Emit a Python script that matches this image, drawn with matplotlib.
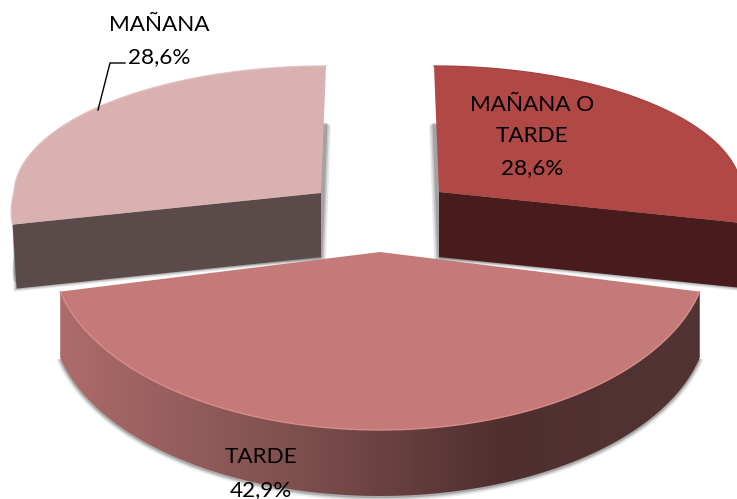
import numpy as np
import matplotlib
matplotlib.use('Agg')
import matplotlib.pyplot as plt
from matplotlib.colors import LinearSegmentedColormap
from matplotlib.patches import Polygon

labels = ['MAÑANA O\nTARDE', 'TARDE', 'MAÑANA']
values = [28.6, 42.9, 28.6]
value_labels = ['28,6%', '42,9%', '28,6%']

W, H = 737, 499


def surface(g, t0, t1):
    # points of a slice rim, angle measured clockwise from the top
    t = np.linspace(t0, t1, 200)
    c = np.cos(t)
    b = np.where(c > 0, g['b_up'], g['b_down'])
    flare = 1 + g['flare'] * np.clip(-c, 0, None)
    return np.column_stack([g['cx'] + g['a'] * np.sin(t) * flare + g['lean'] * c, g['cy'] - b * c])


def main():
    plt.rcParams['font.family'] = ['Lato', 'DejaVu Sans']
    fig = plt.figure(figsize=(W / 100, H / 100), dpi=100)
    ax = fig.add_axes([0, 0, 1, 1])
    ax.set_xlim(0, W)
    ax.set_ylim(H, 0)
    ax.axis('off')

    edges = np.cumsum([0] + values) / sum(values) * 2 * np.pi

    # right, bottom and left slice
    geo = [
        dict(cx=439, cy=192, a=303, b_up=126, b_down=140, lean=-5, depth=65, flare=0.12),
        dict(cx=380, cy=252, a=328, b_up=127, b_down=178, lean=0, depth=66, flare=0),
        dict(cx=321, cy=193, a=307, b_up=127, b_down=142, lean=5, depth=64, flare=0.12),
    ]
    tops = ['#b04845', '#c47a78', '#d9b1b1']
    faces = ['#481c1c', None, '#5a4a4a']
    rims = ['#a8443f', '#d98b89', '#e2bebe']

    # flat slices first, the big one goes on top of them
    for i in [0, 2, 1]:
        g = geo[i]
        arc = surface(g, edges[i], edges[i + 1])
        apex = [g['cx'], g['cy']]
        top = np.vstack([apex, arc])
        d = g['depth']
        low = arc + [0, d]

        # soft grey shadow
        if i == 1:
            for grow, al in [(4, 0.1), (2.5, 0.18), (1.2, 0.3)]:
                g2 = dict(g, a=g['a'] + grow, b_down=g['b_down'] + grow)
                sh = surface(g2, edges[i], edges[i + 1]) + [0, d + 1]
                ax.add_patch(Polygon(sh, closed=True, fc='#555555', ec='none', alpha=al))
        else:
            off = 3 if i == 2 else -3
            end = arc[-1] if i == 0 else arc[0]
            tip = end + [4 if i == 2 else 0, d]
            for k, al in [(1.6, 0.15), (1.0, 0.22), (0.5, 0.3)]:
                sh = np.vstack([[g['cx'] + off * k, g['cy'] + d + 2 * k], arc + [off * k, 56 + 2 * k]])
                ax.add_patch(Polygon(sh, closed=True, fc='#555555', ec='none', alpha=al))
                # shadow under the cut face
                shf = [apex, [g['cx'], g['cy'] + d + 2 * k], tip + [-2 * k if i == 2 else 0, 2 * k], end]
                ax.add_patch(Polygon(shf, closed=True, fc='#777777', ec='none', alpha=al))

        if i == 1:
            # curved side with the horizontal shading
            side = np.vstack([arc, low[::-1]])
            cmap = LinearSegmentedColormap.from_list(
                'side', [(0, '#ad6c6b'), (0.375, '#7d4f4d'), (0.69, '#4f2f2f'), (1, '#533434')])
            x0, x1 = side[:, 0].min(), side[:, 0].max()
            im = ax.imshow(np.linspace(0, 1, 256)[None, :], cmap=cmap, aspect='auto',
                           extent=[x0, x1, H, 0], zorder=2)
            im.set_clip_path(Polygon(side, closed=True, transform=ax.transData))
            ax.set_xlim(0, W)
            ax.set_ylim(H, 0)
        else:
            end = arc[-1] if i == 0 else arc[0]
            face = [apex, end, end + [4 if i == 2 else 0, d], [g['cx'], g['cy'] + d]]
            ax.add_patch(Polygon(face, closed=True, fc=faces[i], ec='none', zorder=1))

        z = 3 if i == 1 else 1.5
        ax.add_patch(Polygon(top, closed=True, fc=tops[i], ec='none', zorder=z))
        ax.plot(arc[:, 0], arc[:, 1], color=rims[i], lw=1, zorder=z + 0.1)

    # labels
    fs = 16.2
    first, second = labels[0].split('\n')
    ax.text(159, 25, labels[2], ha='center', va='center', fontsize=fs, zorder=5)
    ax.text(159, 57, value_labels[2], ha='center', va='center', fontsize=fs, zorder=5)
    ax.plot([98, 110, 125], [110, 63, 63], color='black', lw=1, zorder=5)
    ax.text(532, 105, first, ha='center', va='center', fontsize=fs, zorder=5)
    ax.text(532, 136, second, ha='center', va='center', fontsize=fs, zorder=5)
    ax.text(532, 168, value_labels[0], ha='center', va='center', fontsize=fs, zorder=5)
    ax.text(261, 457, labels[1], ha='center', va='center', fontsize=fs, zorder=5)
    ax.text(261, 490, value_labels[1], ha='center', va='center', fontsize=fs, zorder=5)

    fig.savefig('out.png', dpi=100)


if __name__ == "__main__":
    main()
